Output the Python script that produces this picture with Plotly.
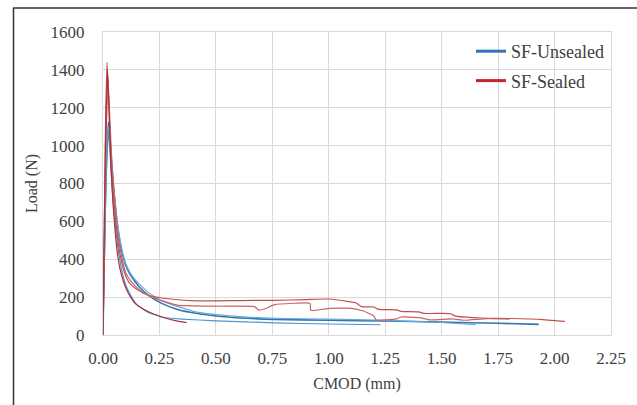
import plotly.graph_objects as go

# ---- data (CMOD in mm, Load in N) ----
b1_x = [0, 0.004, 0.012, 0.024, 0.03, 0.04, 0.05, 0.06, 0.07, 0.08, 0.09, 0.10, 0.12, 0.14, 0.16, 0.20, 0.26, 0.33, 0.41, 0.55, 0.76, 1.0, 1.25, 1.5, 1.75, 1.93]
b1_y = [0, 300, 800, 1125, 1050, 880, 740, 620, 530, 460, 410, 370, 320, 285, 255, 210, 167, 135, 115, 95, 82, 78, 74, 68, 62, 56]

b2_x = [0, 0.004, 0.012, 0.023, 0.03, 0.04, 0.05, 0.06, 0.07, 0.08, 0.09, 0.10, 0.12, 0.14, 0.16, 0.20, 0.26, 0.41, 0.55, 0.76, 1.0, 1.25, 1.5, 1.65]
b2_y = [0, 280, 780, 1100, 1040, 870, 740, 630, 540, 475, 420, 380, 330, 295, 270, 225, 180, 122, 102, 88, 84, 78, 66, 55]

b3_x = [0, 0.004, 0.012, 0.022, 0.03, 0.04, 0.05, 0.06, 0.07, 0.08, 0.09, 0.10, 0.12, 0.15, 0.20, 0.26, 0.35, 0.5, 0.76, 1.0, 1.23]
b3_y = [0, 260, 720, 1080, 980, 780, 640, 520, 430, 360, 305, 265, 215, 160, 120, 95, 84, 75, 64, 58, 54]

r1_x = [0, 0.004, 0.011, 0.018, 0.025, 0.035, 0.045, 0.055, 0.065, 0.075, 0.09, 0.105, 0.12, 0.14, 0.155, 0.19, 0.23, 0.3, 0.41, 0.6, 0.76, 0.9, 1.005, 1.09, 1.12, 1.145, 1.2, 1.22, 1.3, 1.32, 1.4, 1.42, 1.5, 1.54, 1.56, 1.64, 1.71, 1.8, 1.935, 2.046]
r1_y = [0, 400, 1100, 1440, 1250, 950, 760, 620, 510, 430, 350, 300, 270, 250, 238, 215, 202, 190, 180, 182, 183, 187, 190, 176, 170, 150, 148, 135, 133, 125, 122, 114, 114, 112, 100, 92, 88, 87, 83, 72]

r2_x = [0, 0.005, 0.013, 0.022, 0.03, 0.04, 0.05, 0.06, 0.07, 0.085, 0.1, 0.12, 0.14, 0.155, 0.19, 0.23, 0.33, 0.5, 0.67, 0.69, 0.72, 0.76, 0.917, 0.92, 1.005, 1.1, 1.15, 1.2, 1.21, 1.3, 1.32, 1.4, 1.45, 1.55, 1.6, 1.7, 1.8]
r2_y = [0, 380, 1000, 1350, 1150, 900, 730, 600, 500, 400, 330, 290, 262, 245, 215, 195, 158, 152, 150, 132, 140, 160, 167, 130, 141, 141, 128, 100, 79, 85, 95, 92, 80, 85, 78, 86, 84]

r3_x = [0, 0.004, 0.011, 0.02, 0.028, 0.035, 0.045, 0.055, 0.065, 0.075, 0.09, 0.105, 0.12, 0.14, 0.16, 0.186, 0.23, 0.275, 0.32, 0.37]
r3_y = [0, 380, 1000, 1400, 1150, 900, 680, 530, 420, 350, 285, 238, 205, 170, 150, 132, 108, 90, 76, 65]

series = [
    (b1_x, b1_y, "#2e75b6", 1.6),
    (b2_x, b2_y, "#6aaad8", 1.2),
    (b3_x, b3_y, "#4d94cc", 1.2),
    (r1_x, r1_y, "#c0504d", 1.2),
    (r2_x, r2_y, "#c96464", 1.2),
    (r3_x, r3_y, "#a8333e", 1.2),
]

FONT = "Liberation Serif, Times New Roman, serif"
TXT = "#404040"

fig = go.Figure()
for x, y, c, w in series:
    fig.add_trace(go.Scatter(x=x, y=y, mode="lines", line=dict(color=c, width=w, shape="spline", smoothing=0.4),
                             showlegend=False, hoverinfo="skip"))

# legend entries
fig.add_trace(go.Scatter(x=[None], y=[None], mode="lines", name="SF-Unsealed",
                         line=dict(color="#2e75b6", width=3), legendgroup="a"))
fig.add_trace(go.Scatter(x=[None], y=[None], mode="lines", name="SF-Sealed",
                         line=dict(color="#c4262e", width=3), legendgroup="b"))

L, R, T, B = 103, 26, 32, 70
W, H = 637, 405
pw, ph = W - L - R, H - T - B

def px2x(px):
    return (px - L) / pw

def py2y(py):
    return (H - B - py) / ph

fig.update_layout(
    width=W, height=H,
    margin=dict(l=L, r=R, t=T, b=B),
    paper_bgcolor="white", plot_bgcolor="white",
    font=dict(family=FONT, color=TXT, size=17),
    legend=dict(x=px2x(471), y=py2y(33), xanchor="left", yanchor="top",
                bgcolor="rgba(0,0,0,0)", font=dict(size=18, family=FONT, color=TXT),
                tracegroupgap=3, itemwidth=30),
    xaxis=dict(range=[0, 2.25], dtick=0.25, tick0=0, tickformat=".2f",
               showgrid=True, gridcolor="#d9d9d9", gridwidth=1,
               showline=True, linecolor="#d9d9d9", mirror=True, zeroline=False,
               ticks="", ticklabelstandoff=8,
               tickfont=dict(size=17, family=FONT, color=TXT),
               title=dict(text="CMOD (mm)", font=dict(size=16, family=FONT, color=TXT), standoff=10)),
    yaxis=dict(range=[0, 1600], dtick=200, tick0=0,
               showgrid=True, gridcolor="#d9d9d9", gridwidth=1,
               showline=True, linecolor="#d9d9d9", mirror=True, zeroline=False,
               ticks="", ticklabelstandoff=14,
               tickfont=dict(size=17, family=FONT, color=TXT),
               title=dict(text="Load (N)", font=dict(size=16, family=FONT, color=TXT), standoff=8)),
    shapes=[
        dict(type="line", xref="paper", yref="paper", x0=px2x(13.5), x1=px2x(13.5),
             y0=py2y(8), y1=py2y(406), line=dict(color="#333333", width=1.5)),
        dict(type="line", xref="paper", yref="paper", x0=px2x(13), x1=px2x(640),
             y0=py2y(8), y1=py2y(8), line=dict(color="#333333", width=1.5)),
    ],
)

fig.write_html("out.html")
